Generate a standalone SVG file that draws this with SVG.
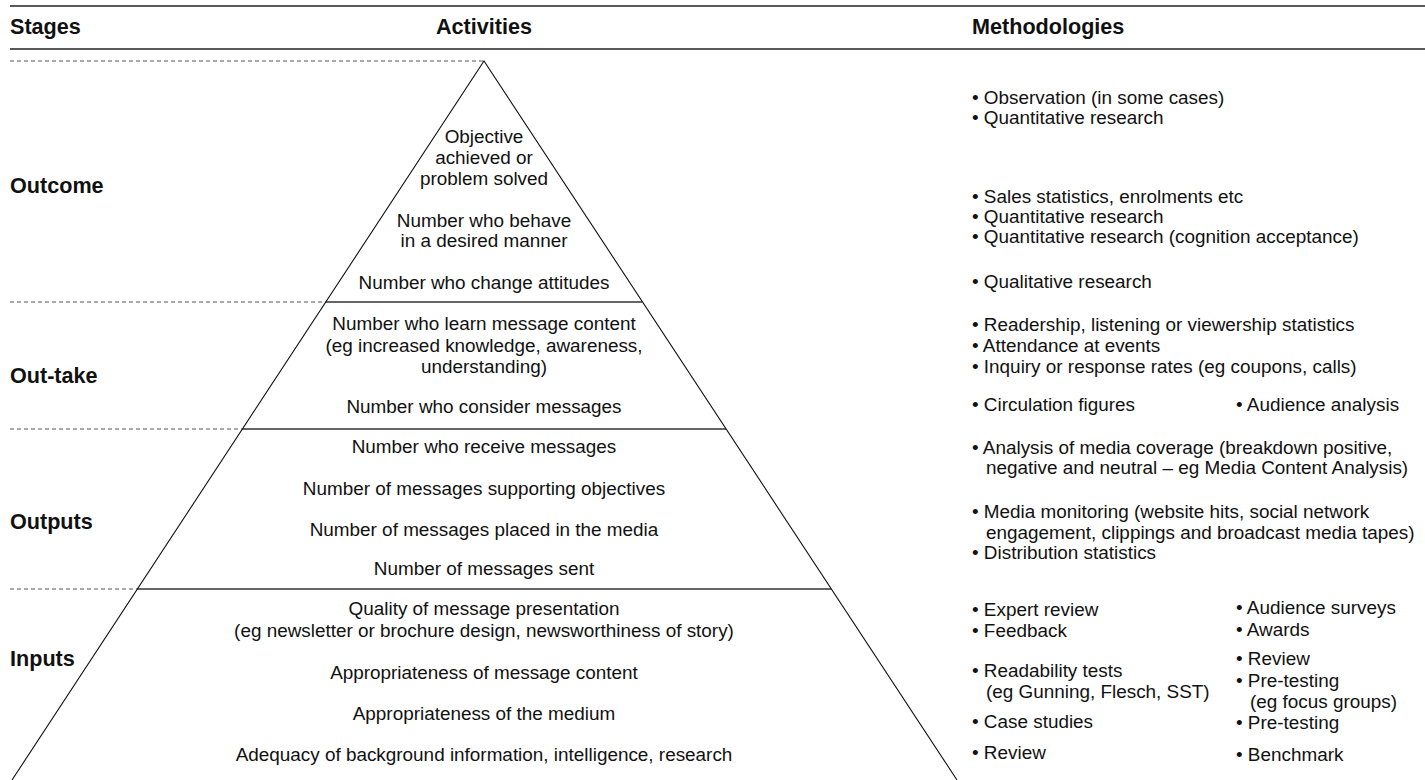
<svg xmlns="http://www.w3.org/2000/svg" width="1425" height="780" viewBox="0 0 1425 780">
<style>
text{font-family:"Liberation Sans",Arial,sans-serif;fill:#111;}
.h{font-size:21.6px;font-weight:bold;}
.b{font-size:18.9px;}
.c{text-anchor:middle;}
.rule{stroke:#222;stroke-width:1.4;fill:none;}
.dash{stroke:#555;stroke-width:1;stroke-dasharray:4 3;fill:none;}
.tier{stroke:#333;stroke-width:1.4;fill:none;}
.edge{stroke:#111;stroke-width:1.1;fill:none;}
</style>
<rect width="1425" height="780" fill="#fff"/>
<g id="header">
<line class="rule" x1="10" y1="6" x2="1425" y2="6"/>
<line class="rule" x1="10" y1="49" x2="1425" y2="49"/>
<text class="h" x="10" y="34">Stages</text>
<text class="h c" x="484" y="34">Activities</text>
<text class="h" x="972" y="34">Methodologies</text>
</g>
<g id="connectors">
<line class="dash" x1="10" y1="61" x2="484" y2="61"/>
<line class="dash" x1="10" y1="302" x2="326" y2="302"/>
<line class="dash" x1="10" y1="429" x2="242" y2="429"/>
<line class="dash" x1="10" y1="589" x2="137" y2="589"/>
<line class="tier" x1="326" y1="302" x2="642" y2="302"/>
<line class="tier" x1="242" y1="429" x2="726" y2="429"/>
<line class="tier" x1="137" y1="589" x2="831" y2="589"/>
<polyline class="edge" points="12,780 484,61 957,780"/>
</g>
<g id="stage-outcome">
<text class="h" x="10" y="193">Outcome</text>
</g>
<g id="stage-outtake">
<text class="h" x="10" y="383">Out-take</text>
</g>
<g id="stage-outputs">
<text class="h" x="10" y="529">Outputs</text>
</g>
<g id="stage-inputs">
<text class="h" x="10" y="666">Inputs</text>
</g>
<g id="activities-outcome">
<text class="b c" x="484" y="143">Objective</text>
<text class="b c" x="484" y="164">achieved or</text>
<text class="b c" x="484" y="185">problem solved</text>
<text class="b c" x="484" y="227">Number who behave</text>
<text class="b c" x="484" y="247">in a desired manner</text>
<text class="b c" x="484" y="289">Number who change attitudes</text>
</g>
<g id="activities-outtake">
<text class="b c" x="484" y="330">Number who learn message content</text>
<text class="b c" x="484" y="352">(eg increased knowledge, awareness,</text>
<text class="b c" x="484" y="373">understanding)</text>
<text class="b c" x="484" y="413">Number who consider messages</text>
</g>
<g id="activities-outputs">
<text class="b c" x="484" y="453">Number who receive messages</text>
<text class="b c" x="484" y="495">Number of messages supporting objectives</text>
<text class="b c" x="484" y="536">Number of messages placed in the media</text>
<text class="b c" x="484" y="575">Number of messages sent</text>
</g>
<g id="activities-inputs">
<text class="b c" x="484" y="615">Quality of message presentation</text>
<text class="b c" x="484" y="637">(eg newsletter or brochure design, newsworthiness of story)</text>
<text class="b c" x="484" y="679">Appropriateness of message content</text>
<text class="b c" x="484" y="720">Appropriateness of the medium</text>
<text class="b c" x="484" y="761">Adequacy of background information, intelligence, research</text>
</g>
<g id="methods-outcome">
<text class="b" x="972" y="104">• Observation (in some cases)</text>
<text class="b" x="972" y="124">• Quantitative research</text>
<text class="b" x="972" y="203">• Sales statistics, enrolments etc</text>
<text class="b" x="972" y="223">• Quantitative research</text>
<text class="b" x="972" y="243">• Quantitative research (cognition acceptance)</text>
<text class="b" x="972" y="288">• Qualitative research</text>
</g>
<g id="methods-outtake">
<text class="b" x="972" y="331">• Readership, listening or viewership statistics</text>
<text class="b" x="972" y="352">• Attendance at events</text>
<text class="b" x="972" y="373">• Inquiry or response rates (eg coupons, calls)</text>
<text class="b" x="972" y="411">• Circulation figures</text>
<text class="b" x="1236" y="411">• Audience analysis</text>
</g>
<g id="methods-outputs">
<text class="b" x="972" y="454">• Analysis of media coverage (breakdown positive,</text>
<text class="b" x="986" y="474">negative and neutral – eg Media Content Analysis)</text>
<text class="b" x="972" y="518">• Media monitoring (website hits, social network</text>
<text class="b" x="986" y="539">engagement, clippings and broadcast media tapes)</text>
<text class="b" x="972" y="559">• Distribution statistics</text>
</g>
<g id="methods-inputs">
<text class="b" x="972" y="616">• Expert review</text>
<text class="b" x="972" y="637">• Feedback</text>
<text class="b" x="972" y="677">• Readability tests</text>
<text class="b" x="986" y="698">(eg Gunning, Flesch, SST)</text>
<text class="b" x="972" y="728">• Case studies</text>
<text class="b" x="972" y="759">• Review</text>
<text class="b" x="1236" y="614">• Audience surveys</text>
<text class="b" x="1236" y="636">• Awards</text>
<text class="b" x="1236" y="665">• Review</text>
<text class="b" x="1236" y="687">• Pre-testing</text>
<text class="b" x="1250" y="708">(eg focus groups)</text>
<text class="b" x="1236" y="729">• Pre-testing</text>
<text class="b" x="1236" y="761">• Benchmark</text>
</g>
</svg>
